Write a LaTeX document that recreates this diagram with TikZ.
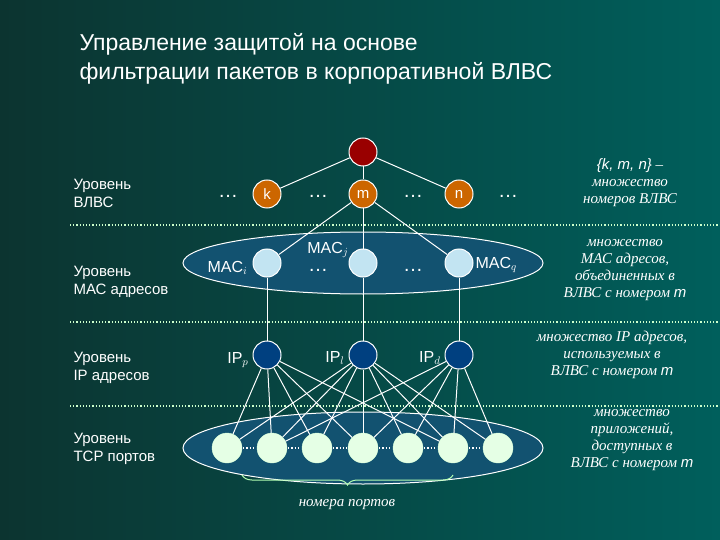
\documentclass[tikz,border=0pt]{standalone}
\usepackage{fontspec}
\setmainfont{Liberation Serif}
\setsansfont{Liberation Sans}
\usetikzlibrary{decorations.pathreplacing,shapes.geometric}
\definecolor{ellc}{RGB}{18,82,112}
\definecolor{bgl}{RGB}{12,52,48}
\definecolor{bgr}{RGB}{0,95,92}
\begin{document}
\begin{tikzpicture}[x=1pt,y=-1pt,
  nd/.style={circle,draw=white,line width=1pt,minimum size=28pt,inner sep=0pt,font=\sffamily\fontsize{15}{18}\selectfont,text=white},
  port/.style={circle,fill=green!10!white,draw=green!15!white,minimum size=30pt,inner sep=0pt},
  ln/.style={white,line width=1pt},
  lbl/.style={text=white,font=\sffamily\fontsize{15}{18}\selectfont,align=left,anchor=west},
  lb/.style={text=white,font=\sffamily\fontsize{16}{19}\selectfont},
  rl/.style={text=white,font=\itshape\fontsize{15}{17}\selectfont,align=center},
  dot/.style={white!80!green,line width=1.2pt,dotted}]
\useasboundingbox (0,0) rectangle (720,540);
\shade[left color=bgl,right color=bgr] (0,0) rectangle (720,540);
\node[text=white,font=\sffamily\fontsize{23}{29}\selectfont,align=left,anchor=north west] (title) at (76,30) {Управление защитой на основе\\ фильтрации пакетов в корпоративной ВЛВС};
\draw[dot] (70,225) -- (720,225);
\draw[dot] (70,322) -- (720,322);
\draw[dot] (70,406) -- (720,406);
\node[ellipse,draw=white,line width=1pt,fill=ellc,minimum width=360pt,minimum height=62pt] (e1) at (363,263) {};
\node[ellipse,draw=white,line width=1pt,fill=ellc,minimum width=360pt,minimum height=72pt] (e2) at (363,448) {};
\node[nd,fill=red!60!black] (r) at (363,152) {};
\node[nd,fill=orange!80!black] (k) at (267,194) {k};
\node[nd,fill=orange!80!black] (m) at (363,194) {m};
\node[nd,fill=orange!80!black] (n) at (459,194) {n};
\foreach \a/\x in {i/267,j/363,q/459} \node[nd,fill=gray!30!cyan!30!white] (mac\a) at (\x,263) {};
\foreach \a/\x in {p/267,l/363,d/459} \node[nd,fill=blue!50!cyan!50!black] (ip\a) at (\x,355) {};
\foreach \i/\x in {1/227,2/272,3/317,4/363,5/408,6/453,7/498} \node[port] (p\i) at (\x,448) {};
\foreach \i [evaluate=\i as \j using int(\i+1)] in {1,...,6} \draw[white,line width=1.2pt,dotted,shorten <=1pt,shorten >=1pt] (p\i) -- (p\j);
\draw[ln] (r)--(k); \draw[ln] (r)--(m); \draw[ln] (r)--(n);
\draw[ln] (m)--(maci); \draw[ln] (m)--(macj); \draw[ln] (m)--(macq);
\draw[ln] (maci)--(ipp); \draw[ln] (macj)--(ipl); \draw[ln] (macq)--(ipd);
\foreach \t in {1,2,3,4,6} \draw[ln] (ipp)--(p\t);
\foreach \t in {1,2,3,4,5,6,7} \draw[ln] (ipl)--(p\t);
\foreach \t in {2,4,5,6,7} \draw[ln] (ipd)--(p\t);
\foreach \x/\y [count=\c] in {228/196,318/196,413/196,508/196,318/270,413/270} \node[text=white,font=\sffamily\fontsize{20}{22}\selectfont] (dd\c) at (\x,\y) {\dots};
\node[lb,anchor=east] (lmi) at (251,268) {MAC$_i$};
\node[lb] (lmj) at (328,250) {MAC$_j$};
\node[lb,anchor=west] (lmq) at (472,265) {MAC$_q$};
\node[lb,anchor=east] (lip) at (252,360) {IP$_p$};
\node[lb,anchor=east] (lil) at (348,358) {IP$_l$};
\node[lb,anchor=east] (lid) at (444,358) {IP$_d$};
\node[lbl] (l1) at (70,193) {Уровень\\ВЛВС};
\node[lbl] (l2) at (70,282) {Уровень\\МАС адресов};
\node[lbl] (l3) at (70,368) {Уровень\\IP адресов};
\node[lbl] (l4) at (70,449) {Уровень\\ТСР портов};
\node[rl] (r1) at (630,183) {{\sffamily\{k, m, n\}} –\\множество\\номеров ВЛВС};
\node[rl] (r2) at (625,270) {множество\\МАС адресов,\\объединенных в\\ВЛВС с номером {\sffamily m}};
\node[rl] (r3) at (612,355) {множество IP адресов,\\используемых в\\ВЛВС с номером {\sffamily m}};
\node[rl] (r4) at (632,440) {множество\\приложений,\\доступных в\\ВЛВС с номером {\sffamily m}};
\coordinate (b1) at (453,475); \coordinate (b2) at (242,475);
\draw[white!70!green,line width=1pt,decorate,decoration={brace,amplitude=10pt}] (b1) -- (b2);
\node[text=white,font=\itshape\fontsize{15}{17}\selectfont] (np) at (347,505) {номера портов};
\end{tikzpicture}
\end{document}
